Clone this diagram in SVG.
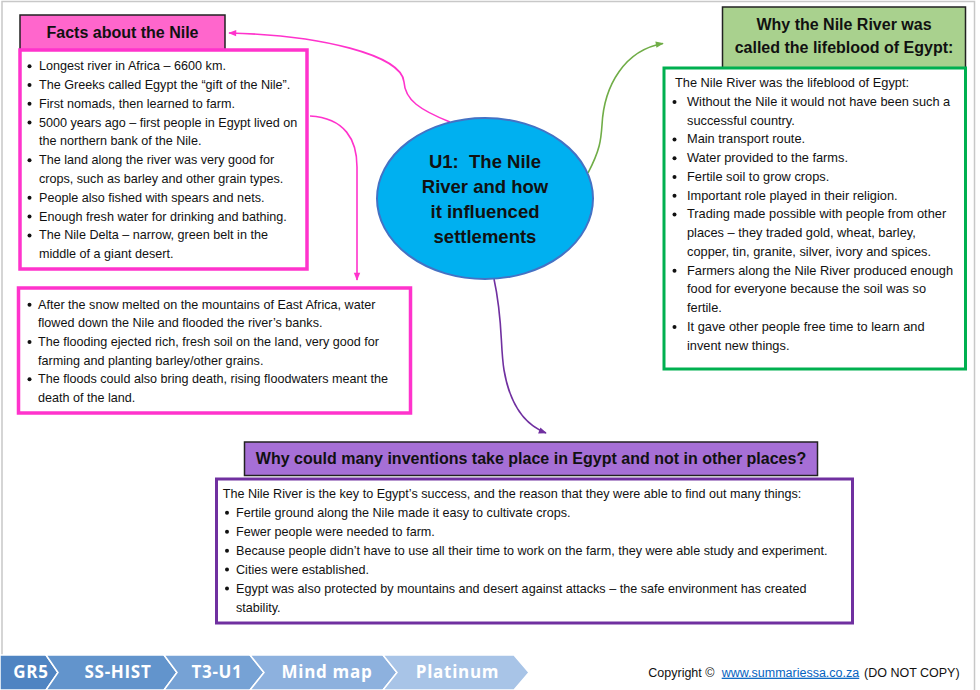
<svg xmlns="http://www.w3.org/2000/svg" width="980" height="690" viewBox="0 0 980 690">
<defs>
<style>
.body{font-family:"Liberation Sans",Arial,sans-serif;font-size:12.6px;fill:#111}
.gbody{font-family:"Liberation Sans",Arial,sans-serif;font-size:12.8px;fill:#111}
.title{font-family:"Liberation Sans",Arial,sans-serif;font-size:16px;font-weight:bold;fill:#111;text-anchor:middle}
.hub{font-family:"Liberation Sans",Arial,sans-serif;font-size:18.5px;font-weight:bold;fill:#111;text-anchor:middle}
.crumb{font-family:"Open Sans","Liberation Sans",sans-serif;font-size:17px;font-weight:bold;fill:#fff;text-anchor:middle;letter-spacing:0.7px}
.copy{font-family:"Liberation Sans",Arial,sans-serif;font-size:12.5px;fill:#111}
.link{fill:#0563C1;text-decoration:underline}
.dot{fill:#111}
.tbox{stroke:#222;stroke-width:1.5}
.conn{fill:none;stroke-width:1.6}
</style>
<marker id="ahPink" viewBox="0 0 10 10" refX="9" refY="5" markerWidth="9" markerHeight="8" markerUnits="userSpaceOnUse" orient="auto"><path d="M0,1 L10,5 L0,9 z" fill="#FF33CC"/></marker>
<marker id="ahGreen" viewBox="0 0 10 10" refX="9" refY="5" markerWidth="9" markerHeight="8" markerUnits="userSpaceOnUse" orient="auto"><path d="M0,1 L10,5 L0,9 z" fill="#70AD47"/></marker>
<marker id="ahPurple" viewBox="0 0 10 10" refX="9" refY="5" markerWidth="9" markerHeight="8" markerUnits="userSpaceOnUse" orient="auto"><path d="M0,1 L10,5 L0,9 z" fill="#7030A0"/></marker>
</defs>
<rect x="0" y="0" width="980" height="690" fill="#fff"/>
<rect x="2" y="1.5" width="972.5" height="700" fill="none" stroke="#C8C8C8" stroke-width="1.5"/>

<g id="connectors">
<path class="conn" stroke="#FF33CC" d="M450,122 C420,110 405,100 404,82 C402,55 320,35 229,33" marker-end="url(#ahPink)"/>
<path class="conn" stroke="#FF33CC" d="M310,116 C345,118 357,140 357,167 L357,280" marker-end="url(#ahPink)"/>
<path class="conn" stroke="#70AD47" d="M588,173 C600,150 601,140 602,125 C604,85 625,50 663,43.5" marker-end="url(#ahGreen)"/>
<path class="conn" stroke="#7030A0" d="M494,279 C503,320 500,345 504,370 C510,405 525,425 546,433" marker-end="url(#ahPurple)"/>
</g>

<g id="hub">
<ellipse cx="485" cy="198.5" rx="108" ry="80.5" fill="#00B0F0" stroke="#4472C4" stroke-width="2"/>
<text class="hub" x="485" y="168.2" xml:space="preserve">U1:  The Nile</text>
<text class="hub" x="485" y="193.2">River and how</text>
<text class="hub" x="485" y="218.2">it influenced</text>
<text class="hub" x="485" y="243.2">settlements</text>
</g>

<g id="facts-title">
<rect class="tbox" x="20" y="15" width="205" height="35" fill="#FF66CC"/>
<text class="title" x="122.5" y="37.5">Facts about the Nile</text>
</g>

<g id="facts-body">
<rect x="20" y="50" width="287" height="219" fill="#fff" stroke="#FF33CC" stroke-width="3.5"/>
<g class="dot">
<circle cx="29.5" cy="66.2" r="2"/><circle cx="29.5" cy="85" r="2"/><circle cx="29.5" cy="103.8" r="2"/><circle cx="29.5" cy="122.6" r="2"/><circle cx="29.5" cy="160.2" r="2"/><circle cx="29.5" cy="197.8" r="2"/><circle cx="29.5" cy="216.6" r="2"/><circle cx="29.5" cy="235.4" r="2"/>
</g>
<text class="body" x="39" y="70.2">Longest river in Africa – 6600 km.</text>
<text class="body" x="39" y="89">The Greeks called Egypt the “gift of the Nile”.</text>
<text class="body" x="39" y="107.8">First nomads, then learned to farm.</text>
<text class="body" x="39" y="126.6">5000 years ago – first people in Egypt lived on</text>
<text class="body" x="39" y="145.4">the northern bank of the Nile.</text>
<text class="body" x="39" y="164.2">The land along the river was very good for</text>
<text class="body" x="39" y="183">crops, such as barley and other grain types.</text>
<text class="body" x="39" y="201.8">People also fished with spears and nets.</text>
<text class="body" x="39" y="220.6">Enough fresh water for drinking and bathing.</text>
<text class="body" x="39" y="239.4">The Nile Delta – narrow, green belt in the</text>
<text class="body" x="39" y="258.2">middle of a giant desert.</text>
</g>

<g id="floods">
<rect x="18.5" y="288" width="392" height="125" fill="#fff" stroke="#FF33CC" stroke-width="3.5"/>
<g class="dot">
<circle cx="29.5" cy="304.8" r="2"/><circle cx="29.5" cy="342" r="2"/><circle cx="29.5" cy="379.2" r="2"/>
</g>
<text class="body" x="38" y="308.8">After the snow melted on the mountains of East Africa, water</text>
<text class="body" x="38" y="327.4">flowed down the Nile and flooded the river’s banks.</text>
<text class="body" x="38" y="346">The flooding ejected rich, fresh soil on the land, very good for</text>
<text class="body" x="38" y="364.6">farming and planting barley/other grains.</text>
<text class="body" x="38" y="383.2">The floods could also bring death, rising floodwaters meant the</text>
<text class="body" x="38" y="401.8">death of the land.</text>
</g>

<g id="lifeblood-title">
<rect class="tbox" x="722.5" y="7" width="243" height="61" fill="#A9D18E"/>
<text class="title" x="844" y="29.7">Why the Nile River was</text>
<text class="title" x="844" y="53.4">called the lifeblood of Egypt:</text>
</g>

<g id="lifeblood-body">
<rect x="664" y="68" width="301.5" height="301" fill="#fff" stroke="#00B050" stroke-width="3"/>
<g class="dot">
<circle cx="674.5" cy="101.95" r="2"/><circle cx="674.5" cy="139.45" r="2"/><circle cx="674.5" cy="158.2" r="2"/><circle cx="674.5" cy="176.95" r="2"/><circle cx="674.5" cy="195.7" r="2"/><circle cx="674.5" cy="214.45" r="2"/><circle cx="674.5" cy="270.7" r="2"/><circle cx="674.5" cy="326.95" r="2"/>
</g>
<text class="gbody" x="675" y="87.2">The Nile River was the lifeblood of Egypt:</text>
<text class="gbody" x="687" y="105.95">Without the Nile it would not have been such a</text>
<text class="gbody" x="687" y="124.7">successful country.</text>
<text class="gbody" x="687" y="143.45">Main transport route.</text>
<text class="gbody" x="687" y="162.2">Water provided to the farms.</text>
<text class="gbody" x="687" y="180.95">Fertile soil to grow crops.</text>
<text class="gbody" x="687" y="199.7">Important role played in their religion.</text>
<text class="gbody" x="687" y="218.45">Trading made possible with people from other</text>
<text class="gbody" x="687" y="237.2">places – they traded gold, wheat, barley,</text>
<text class="gbody" x="687" y="255.95">copper, tin, granite, silver, ivory and spices.</text>
<text class="gbody" x="687" y="274.7">Farmers along the Nile River produced enough</text>
<text class="gbody" x="687" y="293.45">food for everyone because the soil was so</text>
<text class="gbody" x="687" y="312.2">fertile.</text>
<text class="gbody" x="687" y="330.95">It gave other people free time to learn and</text>
<text class="gbody" x="687" y="349.7">invent new things.</text>
</g>

<g id="inventions-title">
<rect class="tbox" x="244.5" y="442" width="573" height="33.5" fill="#A66FD6"/>
<text class="title" x="531" y="464.2">Why could many inventions take place in Egypt and not in other places?</text>
</g>

<g id="inventions-body">
<rect x="216.5" y="479" width="636" height="144" fill="#fff" stroke="#7030A0" stroke-width="3"/>
<g class="dot">
<circle cx="227" cy="512.75" r="2"/><circle cx="227" cy="531.7" r="2"/><circle cx="227" cy="550.65" r="2"/><circle cx="227" cy="569.6" r="2"/><circle cx="227" cy="588.55" r="2"/>
</g>
<text class="body" x="222.7" y="497.8">The Nile River is the key to Egypt’s success, and the reason that they were able to find out many things:</text>
<text class="body" x="236" y="516.75">Fertile ground along the Nile made it easy to cultivate crops.</text>
<text class="body" x="236" y="535.7">Fewer people were needed to farm.</text>
<text class="body" x="236" y="554.65">Because people didn’t have to use all their time to work on the farm, they were able study and experiment.</text>
<text class="body" x="236" y="573.6">Cities were established.</text>
<text class="body" x="236" y="592.55">Egypt was also protected by mountains and desert against attacks – the safe environment has created</text>
<text class="body" x="236" y="611.5">stability.</text>
</g>

<g id="footer">
<g stroke="#fff" stroke-width="1.5">
<polygon points="0,655 46,655 58,672.5 46,690 0,690" fill="#4F84C2"/>
<polygon points="46,655 164,655 177,672.5 164,690 46,690 58,672.5" fill="#6294CC"/>
<polygon points="164,655 250,655 264,672.5 250,690 164,690 177,672.5" fill="#76A2D5"/>
<polygon points="250,655 383,655 397,672.5 383,690 250,690 264,672.5" fill="#8DB1DE"/>
<polygon points="383,655 514,655 529,672.5 514,690 383,690 397,672.5" fill="#A8C4E7"/>
</g>
<text class="crumb" x="31" y="678">GR5</text>
<text class="crumb" x="118" y="678">SS-HIST</text>
<text class="crumb" x="217" y="678">T3-U1</text>
<text class="crumb" x="327" y="678">Mind map</text>
<text class="crumb" x="457.5" y="678">Platinum</text>
<text class="copy" x="648.3" y="676.7">Copyright ©</text>
<text class="copy link" x="721.7" y="676.7">www.summariessa.co.za</text>
<text class="copy" x="864" y="676.7">(DO NOT COPY)</text>
</g>
</svg>
